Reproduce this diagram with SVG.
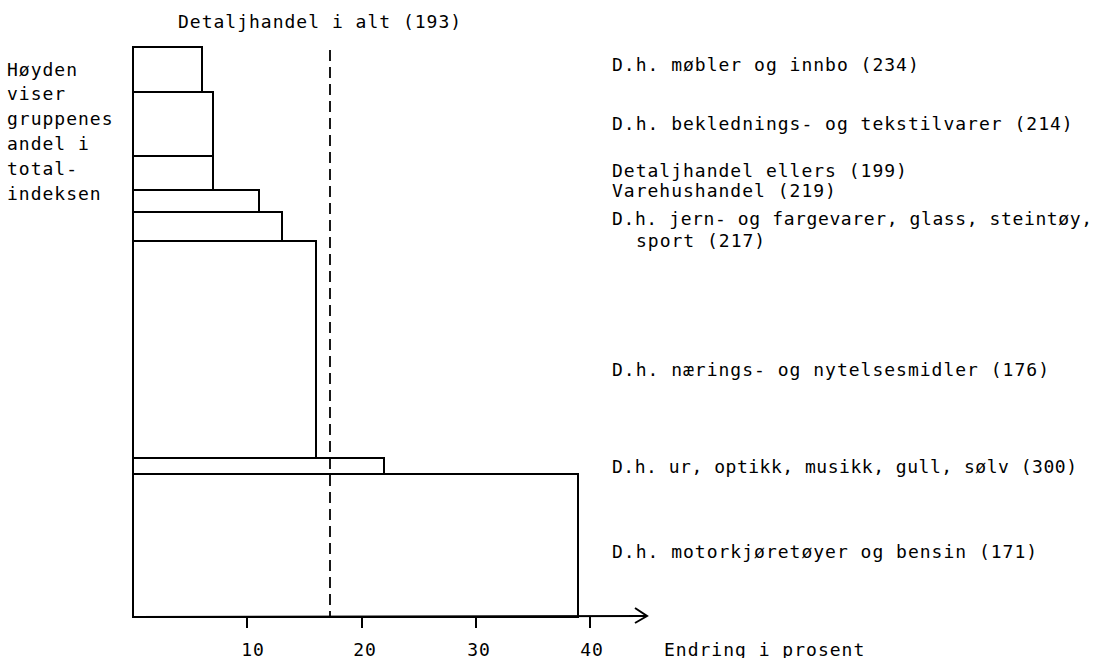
<svg xmlns="http://www.w3.org/2000/svg" width="1096" height="658" viewBox="0 0 1096 658">
<style>
text{font-family:"DejaVu Sans Mono","Liberation Mono",monospace;font-size:18px;letter-spacing:1px;fill:#000}
.bar{fill:none;stroke:#000;stroke-width:2}
.ax{fill:none;stroke:#000;stroke-width:2}
.dash{fill:none;stroke:#000;stroke-width:1.8;stroke-dasharray:11 6}
.tick{text-anchor:middle}
</style>
<rect width="1096" height="658" fill="#fff"/>
<g id="title"><text x="178" y="28">Detaljhandel i alt (193)</text></g>
<g id="legend-note">
<text x="7" y="76">Høyden</text>
<text x="7" y="100">viser</text>
<text x="7" y="125">gruppenes</text>
<text x="7" y="150">andel i</text>
<text x="7" y="175">total-</text>
<text x="7" y="200">indeksen</text>
</g>
<g id="bar-mobler"><rect class="bar" x="133" y="47" width="69" height="45"/><text x="612" y="71">D.h. møbler og innbo (234)</text></g>
<g id="bar-bekledning"><rect class="bar" x="133" y="92" width="80" height="64"/><text x="612" y="130">D.h. beklednings- og tekstilvarer (214)</text></g>
<g id="bar-ellers"><rect class="bar" x="133" y="156" width="80" height="34"/><text x="612" y="177">Detaljhandel ellers (199)</text></g>
<g id="bar-varehus"><rect class="bar" x="133" y="190" width="126" height="22"/><text x="612" y="197">Varehushandel (219)</text></g>
<g id="bar-jern"><rect class="bar" x="133" y="212" width="149" height="29"/><text x="612" y="225" textLength="481" lengthAdjust="spacing">D.h. jern- og fargevarer, glass, steintøy,</text><text x="636" y="247">sport (217)</text></g>
<g id="bar-naering"><rect class="bar" x="133" y="241" width="183" height="217"/><text x="612" y="376">D.h. nærings- og nytelsesmidler (176)</text></g>
<g id="bar-ur"><rect class="bar" x="133" y="458" width="251" height="16"/><text x="612" y="473" textLength="466" lengthAdjust="spacing">D.h. ur, optikk, musikk, gull, sølv (300)</text></g>
<g id="bar-motor"><rect class="bar" x="133" y="474" width="445" height="143"/><text x="612" y="558">D.h. motorkjøretøyer og bensin (171)</text></g>
<g id="connectors">
<line class="dash" x1="330" y1="50" x2="330" y2="617"/>
<line class="ax" x1="133" y1="47" x2="133" y2="618"/>
<line class="ax" x1="133" y1="617" x2="647" y2="616"/>
<polyline class="ax" points="635,608 647,616 635,623"/>
<line class="ax" x1="247" y1="617" x2="247" y2="628"/>
<line class="ax" x1="362" y1="617" x2="362" y2="628"/>
<line class="ax" x1="476" y1="617" x2="476" y2="628"/>
<line class="ax" x1="590" y1="617" x2="590" y2="628"/>
</g>
<g id="axis-labels">
<text class="tick" x="253" y="656">10</text>
<text class="tick" x="365" y="656">20</text>
<text class="tick" x="479" y="656">30</text>
<text class="tick" x="592" y="656">40</text>
<text x="664" y="656">Endring i prosent</text>
</g>
</svg>
